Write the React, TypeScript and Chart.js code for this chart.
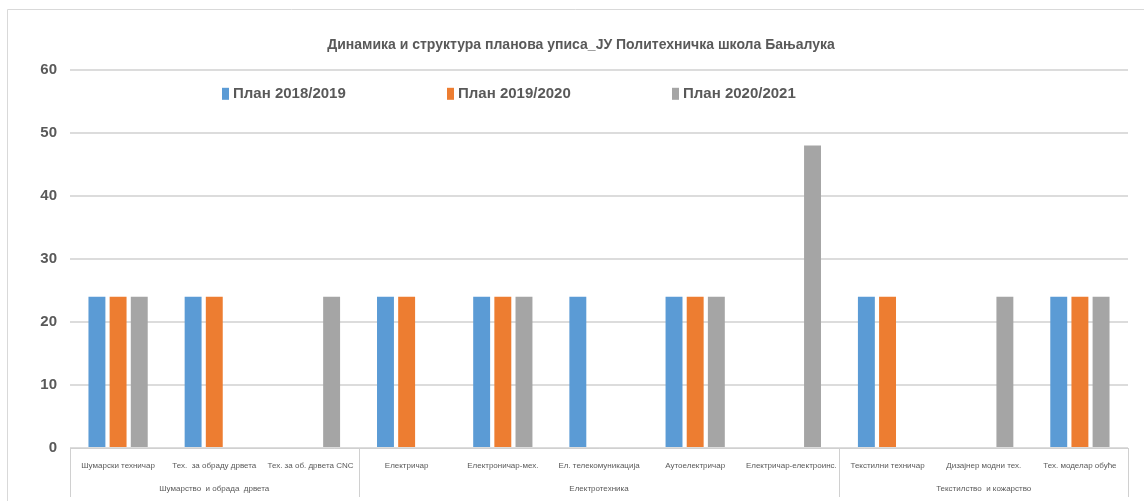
import React, { useEffect, useRef } from 'react';
import { Chart, registerables } from 'chart.js';

Chart.register(...registerables);

const TITLE = 'Динамика и структура планова уписа_ЈУ Политехничка школа Бањалука';
const categories = [
  'Шумарски техничар',
  'Тех.  за обраду дрвета',
  'Тех. за об. дрвета CNC',
  'Електричар',
  'Електроничар-мех.',
  'Ел. телекомуникација',
  'Аутоелектричар',
  'Електричар-електроинс.',
  'Текстилни техничар',
  'Дизајнер модни тех.',
  'Тех. моделар обуће',
];
const groups = ['Шумарство  и обрада  дрвета', 'Електротехника', 'Текстилство  и кожарство'];
const groupSizes = [3, 5, 3];
const seriesNames = ['План 2018/2019', 'План 2019/2020', 'План 2020/2021'];
const seriesColors = ['#5b9bd5', '#ed7d31', '#a5a5a5'];
const plan2018 = [24, 24, null, 24, 24, 24, 24, null, 24, null, 24];
const plan2019 = [24, 24, null, 24, 24, null, 24, null, 24, null, 24];
const plan2020 = [24, null, 24, null, 24, null, 24, 48, null, 24, 24];
const yMin = 0;
const yMax = 60;
const yStep = 10;

const FONT = "'Liberation Sans', Arial, sans-serif";
const TEXT = '#595959';

// group label row (label at the middle category of each group) and group boundaries
const groupRow: string[] = [];
const groupBounds: number[] = [-0.5];
{
  let start = 0;
  groupSizes.forEach((s, g) => {
    const mid = Math.floor((s - 1) / 2);
    for (let i = 0; i < s; i++) groupRow.push(i === mid ? groups[g] : '');
    start += s;
    groupBounds.push(start - 0.5);
  });
}

const decorPlugin = {
  id: 'decor',
  afterDraw(chart: any) {
    const { ctx, chartArea, scales } = chart;
    const x = scales.x;
    ctx.save();
    // outer frame
    ctx.strokeStyle = '#d9d9d9';
    ctx.lineWidth = 1;
    ctx.beginPath();
    ctx.moveTo(7.5, chart.height);
    ctx.lineTo(7.5, 9.5);
    ctx.lineTo(chart.width, 9.5);
    ctx.stroke();
    // group separators
    const w = (x.right - x.left) / categories.length;
    ctx.strokeStyle = '#d0d0d0';
    groupBounds.forEach((b) => {
      const px = Math.round(x.left + (b + 0.5) * w) + 0.5;
      ctx.beginPath();
      ctx.moveTo(px, chartArea.bottom);
      ctx.lineTo(px, chart.height - 4);
      ctx.stroke();
    });
    // legend inside plot area
    ctx.font = `bold 15px ${FONT}`;
    ctx.textBaseline = 'middle';
    ctx.textAlign = 'left';
    const ly = chartArea.top + 24;
    chart.data.datasets.forEach((ds: any, i: number) => {
      const mx = 222 + i * 225;
      ctx.fillStyle = ds.backgroundColor;
      ctx.fillRect(mx, ly - 6, 7, 12);
      ctx.fillStyle = TEXT;
      ctx.fillText(ds.label, mx + 11, ly);
    });
    ctx.restore();
  },
};

export default function App() {
  const ref = useRef<HTMLCanvasElement | null>(null);
  useEffect(() => {
    if (!ref.current) return;
    const chart = new Chart(ref.current, {
      type: 'bar',
      data: {
        labels: categories,
        datasets: [plan2018, plan2019, plan2020].map((d, i) => ({
          label: seriesNames[i],
          data: d,
          backgroundColor: seriesColors[i],
          borderWidth: 0,
          categoryPercentage: 0.66,
          barPercentage: 0.8,
        })),
      },
      options: {
        animation: false,
        responsive: false,
        layout: { padding: { left: 34, right: 16, top: 0, bottom: 0 } },
        plugins: {
          legend: { display: false },
          tooltip: { enabled: false },
          title: {
            display: true,
            text: TITLE,
            color: TEXT,
            font: { family: FONT, size: 14, weight: 'bold' },
            padding: { top: 37, bottom: 16 },
          },
        },
        scales: {
          x: {
            type: 'category',
            grid: { display: false },
            border: { display: true, color: '#d0d0d0', width: 1 },
            ticks: {
              color: TEXT,
              font: { family: FONT, size: 8 },
              padding: 5,
              maxRotation: 0,
              autoSkip: false,
            },
            afterFit(scale: any) {
              scale.height = 28;
            },
          },
          x2: {
            type: 'category',
            labels: groupRow,
            position: 'bottom',
            grid: { display: false, drawTicks: false },
            border: { display: false },
            ticks: {
              color: TEXT,
              font: { family: FONT, size: 8 },
              padding: 8,
              maxRotation: 0,
              autoSkip: false,
            },
            afterFit(scale: any) {
              scale.height = 25;
            },
          },
          y: {
            min: yMin,
            max: yMax,
            grid: { color: '#dcdcdc', lineWidth: 2, drawTicks: false },
            border: { display: false },
            ticks: {
              stepSize: yStep,
              color: TEXT,
              font: { family: FONT, size: 15, weight: 'bold' },
              padding: 13,
            },
            afterFit(scale: any) {
              scale.width = 36;
            },
          },
        },
      },
      plugins: [decorPlugin],
    });
    return () => chart.destroy();
  }, []);
  return (
    <div style={{ position: 'absolute', left: 0, top: 0, width: 1144, height: 501, background: '#fff' }}>
      <canvas ref={ref} width={1144} height={501} />
    </div>
  );
}
